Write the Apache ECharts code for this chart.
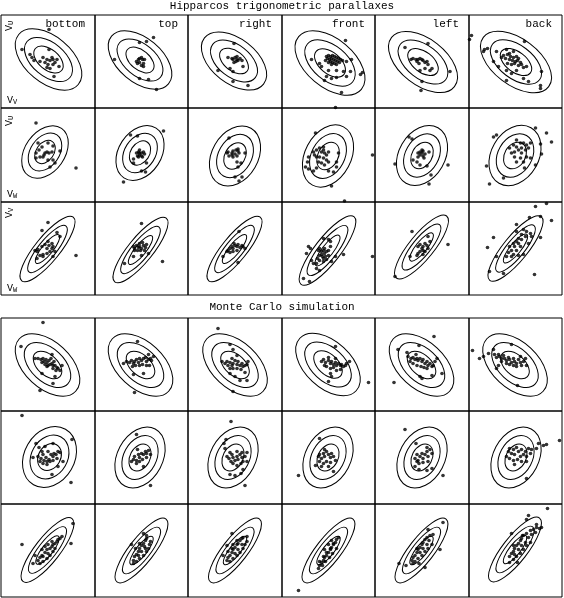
<!DOCTYPE html>
<html>
<head>
<meta charset="utf-8">
<script src="https://cdn.jsdelivr.net/npm/echarts@6/dist/echarts.min.js"></script>
<style>
  html, body { margin: 0; padding: 0; background: #fff; }
  #chart { width: 564px; height: 598px; }
</style>
</head>
<body>
<div id="chart"></div>
<script>
// panels: 2 blocks x 3 velocity planes x 6 faces
const faces = ["bottom", "top", "right", "front", "left", "back"];
const blockTitles = ["Hipparcos trigonometric parallaxes", "Monte Carlo simulation"];
// [y-axis component, x-axis component] for the three planes
const planeAxes = [["U", "V"], ["U", "W"], ["V", "W"]];
// contour radii in sigma for the three ellipses
const contourLevels = [1.52, 2.48, 3.44];

// 1-sigma ellipses per face: [cx, cy, sigma major, sigma minor, angle deg]
const hipEllUV = [[0.5, 2, 11.3, 6.7, -40], [-1.5, 1.5, 10.8, 6.4, -40], [-1, 0.5, 10.9, 6.5, -38], [1.5, -1.5, 11.9, 7.0, -40], [1, -0.5, 11.6, 6.7, -38], [0.5, -0.5, 11.9, 6.7, -37]];
const hipEllUW = [[-3, 3, 8.4, 5.8, 55], [-1.5, 2, 8.6, 6.2, 57], [0, -1, 9.3, 6.7, 60], [-0.5, -1, 9.6, 6.7, 62], [0, -0.5, 9.3, 6.7, 60], [-0.5, -0.5, 9.3, 6.9, 60]];
const hipEllVW = [[-0.5, -0.5, 11.9, 3.6, 51], [-1, -1.5, 11.9, 3.6, 51], [-0.5, -0.5, 11.9, 3.6, 51], [-1, -2, 12.5, 3.7, 52], [-0.5, 1.5, 11.6, 3.6, 51], [0, 0, 11.9, 3.6, 51]];
const mcEllUV = [[-0.5, -0.5, 11.2, 6.7, -43], [-1, -0.5, 11.2, 6.7, -43], [0, -0.5, 11.2, 6.7, -43], [-0.5, 0, 11.2, 6.7, -43], [-0.5, -0.5, 11.2, 6.7, -43], [-0.5, -0.5, 11.2, 6.7, -43]];
const mcEllUW = [[1.5, 0.5, 9.3, 7.3, 60], [-1.5, 0, 9.4, 6.6, 62], [-2, 0, 9.4, 6.6, 62], [-0.5, 0, 9.4, 6.6, 62], [0, 0, 9.4, 6.6, 62], [0.5, 0, 9.4, 6.6, 62]];
const mcEllVW = [[-0.5, 0.5, 11.6, 3.6, 52], [0, 0, 11.6, 3.6, 52], [0, 0, 11.6, 3.6, 52], [0, 0, 11.6, 3.6, 52], [-0.5, 0, 11.6, 3.6, 52], [-0.5, 1, 11.6, 3.6, 52]];

// stars per face, Hipparcos parallaxes
const hipUV = [
  [[1,32],[-26,12],[-18,7],[-16,4],[-14,1],[-5,4],[1,12],[-1,2],[2,1],[4,4],[5,2],[7,-1],[0,-3],[-1,-6],[2,-7],[5,-3],[9,2],[11,-5],[6,-15],[-3,-1],[-8,0]],
  [[12,24],[-2,19],[5,20],[-27,2],[-5,0],[-3,2],[-2,3],[0,4],[1,2],[-2,-1],[-4,-2],[2,-2],[0,-4],[3,2],[2,-5],[-2,-17],[7,-18],[15,-28]],
  [[-1,18],[-7,4],[-3,3],[-2,2],[0,4],[2,2],[3,1],[1,0],[5,3],[7,1],[2,5],[-1,-1],[-5,-7],[-2,-10],[-17,-9],[-2,-20],[13,-24],[8,-5]],
  [[17,21],[-17,2],[-9,-2],[0,-9],[8,-9],[15,-10],[22,-10],[-2,-15],[-4,-19],[3,-17],[8,-16],[18,-15],[32,-13],[34,-11],[13,-31],[7,-46],[-7,-5],[18,0],[23,2],[-2,5],[0,6],[2,5],[4,6],[6,5],[8,4],[10,3],[12,2],[-1,3],[1,2],[3,3],[5,2],[7,1],[9,0],[2,0],[4,-1],[6,-2],[0,-1],[3,-3],[8,-3],[11,-1],[-3,1],[14,1]],
  [[6,18],[-17,14],[-11,2],[-9,3],[-6,2],[-4,2],[-2,3],[0,2],[1,1],[3,-1],[5,0],[6,-3],[-3,-2],[-5,0],[-2,-9],[3,-7],[8,-9],[10,-7],[28,-10],[0,-20],[-1,-29]],
  [[-44,26],[-46,22],[9,20],[-31,12],[-28,13],[-32,10],[-19,10],[-9,12],[-2,10],[-22,0],[-17,-5],[-9,-9],[-4,-12],[1,-9],[11,-5],[-9,-19],[13,-20],[26,-10],[25,-27],[25,-24],[8,-17],[-12,6],[-8,7],[-5,5],[-2,4],[1,5],[3,3],[-10,3],[-6,2],[-3,1],[0,0],[2,1],[5,-1],[-8,-2],[-4,-3],[-1,-2],[3,-4],[6,-3],[8,-6],[-14,4],[-6,8]]
];
const hipUW = [
  [[-12,32],[28,-13],[-10,12],[-6,8],[0,12],[5,9],[12,4],[-12,2],[-12,-3],[-8,-2],[-4,0],[-1,3],[1,2],[4,3],[-3,2],[-5,-2],[0,-5],[5,-5],[7,-8],[2,-12],[-9,5]],
  [[-11,20],[-4,19],[22,24],[-5,2],[-3,3],[-2,5],[0,2],[2,3],[-2,0],[0,-1],[-4,-1],[3,1],[-2,2],[1,-2],[-3,-2],[-8,-4],[-8,-8],[0,-16],[4,-17],[-18,-27],[5,-8]],
  [[-6,17],[-8,2],[-7,3],[-3,2],[-2,4],[1,5],[3,4],[4,2],[0,1],[-3,0],[-6,-1],[2,-1],[-2,-2],[3,6],[10,2],[2,-7],[6,-8],[3,-12],[0,-22],[7,-22],[4,-26]],
  [[-13,22],[44,0],[16,-46],[3,-31],[-15,3],[-12,5],[-9,7],[-7,3],[-5,5],[-4,2],[-2,0],[0,3],[-9,-2],[-5,-3],[-2,-5],[-10,-7],[-7,-8],[-4,-10],[-12,-2],[0,-7],[-14,0],[-5,8],[10,2],[-21,-7],[-23,-12],[-20,-14],[-15,-16],[-12,-13],[0,-16],[5,-17],[8,-12],[8,-7],[-20,-2]],
  [[-13,18],[-10,16],[-4,2],[-2,3],[0,2],[1,4],[3,1],[-2,0],[1,-1],[-4,-2],[2,-3],[0,5],[7,3],[-9,-5],[-5,-7],[-2,-10],[5,-11],[9,-20],[26,-10],[7,-29],[-27,-9]],
  [[-22,18],[-19,20],[20,27],[31,22],[36,13],[25,11],[1,15],[-6,7],[-2,10],[1,8],[5,12],[8,12],[11,10],[15,12],[-4,2],[-1,3],[3,5],[6,2],[10,5],[13,7],[-1,-2],[5,-3],[8,-7],[11,-2],[1,-7],[6,7],[26,1],[20,-10],[9,-13],[-29,-11],[-12,-23],[-26,-29],[15,-3]]
];
const hipVW = [
  [[0,26],[-6,18],[28,-7],[9,16],[12,12],[-13,-2],[-11,-3],[-10,-1],[-6,2],[-3,4],[-1,0],[1,3],[4,0],[5,2],[2,-3],[-1,-5],[-5,-6],[-8,-7],[4,5],[7,-3],[0,7],[-11,-10],[5,-8],[-5,-8]],
  [[0,25],[21,-13],[-8,2],[-7,0],[-5,3],[-3,1],[-2,2],[0,0],[2,3],[4,1],[-4,-2],[-1,-2],[3,-2],[5,4],[-2,5],[-7,-2],[1,6],[-17,-15],[-8,-8],[0,-7],[7,-5]],
  [[4,17],[3,-14],[-8,-3],[-7,-2],[-5,0],[-3,2],[-2,0],[0,3],[2,2],[3,4],[5,1],[7,3],[8,2],[-5,-4],[-2,-3],[2,-2],[10,0],[-1,5],[-12,-8]],
  [[44,-8],[-20,2],[-18,0],[-22,-5],[0,9],[2,7],[15,-6],[7,-8],[-15,-15],[-17,-12],[-12,-20],[-9,-22],[-25,-30],[-19,-33],[3,-13],[-5,10],[-10,-2],[-9,0],[-7,-3],[-5,-2],[-4,0],[-2,-3],[0,-2],[-9,-7],[-6,-8],[-3,-8],[0,-7],[-9,-12],[-5,-13],[-2,-11],[-11,-10],[-7,-6],[-4,-5],[2,2],[-12,-15],[-5,-10]],
  [[-10,17],[26,4],[-27,-28],[6,12],[-4,2],[-2,4],[0,0],[1,2],[3,5],[5,3],[1,-2],[-2,-3],[-4,-5],[3,-3],[6,0],[-5,-7],[1,-6],[8,7],[-12,-8]],
  [[20,42],[31,45],[36,28],[25,32],[14,31],[-22,11],[-28,1],[1,24],[25,11],[19,-26],[-26,-23],[-12,-25],[-19,-8],[8,19],[11,17],[15,15],[6,14],[10,12],[3,10],[6,9],[1,7],[-2,5],[3,5],[-6,2],[-1,2],[5,2],[-4,-2],[1,-2],[-7,-4],[-2,-6],[3,-7],[8,-6],[-9,-8],[13,5],[16,12],[1,17],[-4,-8]]
];

// stars per face, Monte Carlo simulation
const mcUV = [
  [[-5,42],[-27,18],[-13,6],[-8,-26],[5,-19],[-6,-9],[7,-12],[14,-1],[-10,6],[-7,5],[-5,6],[-4,3],[-2,5],[-1,2],[1,4],[2,0],[4,1],[5,-1],[7,-1],[9,-3],[10,-4],[5,-4],[0,-1],[-3,0],[-6,2],[3,6],[6,3],[-1,-2],[12,-6],[8,-6],[4,10]],
  [[-4,23],[-7,-28],[-8,-10],[2,-9],[7,10],[-18,1],[-15,3],[-12,2],[-10,4],[-8,1],[-7,3],[-5,5],[-3,2],[-2,6],[0,4],[2,6],[4,7],[5,3],[7,5],[9,6],[10,4],[-2,-1],[1,0],[5,-1],[8,-1],[-6,-1],[-9,-2],[12,8]],
  [[-17,36],[-5,20],[-2,15],[2,9],[-13,3],[-2,-27],[0,-12],[5,-16],[12,-16],[10,-8],[-5,-9],[-10,1],[-8,3],[-7,-1],[-5,2],[-3,-1],[-2,1],[0,4],[2,0],[3,3],[5,-1],[7,1],[8,-2],[10,-1],[12,0],[-2,-4],[2,-4],[6,-5],[-5,-4],[13,3],[-3,6]],
  [[7,18],[40,-18],[21,3],[0,-17],[-7,3],[-5,5],[-3,2],[0,4],[2,1],[3,3],[5,0],[7,2],[8,-1],[10,1],[12,-1],[13,0],[15,-2],[17,-1],[-2,-2],[2,-4],[5,-3],[8,-6],[12,-5],[0,7],[7,6],[2,-9],[3,-12],[-4,-1],[18,1]],
  [[12,28],[-28,-18],[-24,15],[-3,19],[-15,12],[15,6],[20,-9],[10,-11],[-2,-12],[0,-14],[-14,8],[-11,6],[-9,7],[-7,5],[-5,6],[-4,4],[-2,6],[0,3],[1,5],[3,1],[5,3],[6,-1],[8,1],[10,-2],[11,-1],[-9,1],[-5,-1],[-1,-2],[2,-3],[5,-4],[-12,3],[13,3],[-6,10]],
  [[-43,14],[-36,6],[-32,8],[-27,11],[-22,15],[-19,-4],[-17,-1],[2,-21],[-4,20],[11,-1],[-21,10],[-19,7],[-17,10],[-16,8],[-14,6],[-12,9],[-11,6],[-9,4],[-7,7],[-6,5],[-4,2],[-2,6],[-1,3],[1,1],[3,5],[5,2],[6,-1],[8,3],[-6,0],[-2,-1],[1,-2],[-9,1],[-14,3],[5,8],[10,6]]
];
const mcUW = [
  [[-26,42],[24,18],[23,-25],[-12,14],[-9,10],[4,-17],[10,-9],[15,-4],[-15,0],[5,14],[-3,11],[-10,1],[-7,-1],[-5,3],[-4,-3],[-2,0],[-1,-4],[1,-2],[3,3],[5,1],[6,4],[8,3],[10,6],[12,5],[-5,-6],[-1,-7],[2,-4],[5,-3],[9,-1],[-6,6],[0,6],[-8,-4]],
  [[-5,23],[9,-28],[2,-9],[-8,-2],[-7,1],[-5,-3],[-3,3],[-2,0],[0,4],[2,3],[4,6],[5,4],[7,7],[-2,-4],[1,-2],[5,0],[-5,-6],[9,3],[-4,8],[-10,-4]],
  [[-4,36],[10,-28],[-9,18],[-11,14],[-10,9],[-5,5],[2,6],[7,5],[12,5],[12,-4],[-5,-17],[0,-18],[6,-16],[8,-12],[-8,1],[-6,-1],[-3,3],[-2,0],[0,-3],[2,1],[3,-2],[5,3],[7,0],[8,-4],[10,1],[-2,-6],[2,-8],[6,-6],[-4,-4]],
  [[-9,19],[-30,-18],[5,-14],[-13,-8],[-10,1],[-9,3],[-7,-1],[-5,4],[-4,1],[-2,6],[0,3],[2,0],[3,4],[5,1],[-9,-4],[-5,-6],[-2,-4],[2,-5],[-7,-9],[0,-9],[7,-3],[-4,8]],
  [[-17,28],[21,-18],[-6,14],[10,-11],[-7,-9],[-3,-12],[5,-13],[-7,-1],[-5,3],[-4,-3],[-2,1],[0,4],[1,-1],[3,3],[5,6],[6,1],[8,8],[10,4],[-3,-6],[1,-5],[6,-4],[-5,-4],[5,10]],
  [[44,17],[31,13],[28,12],[23,14],[21,9],[11,-21],[-1,-7],[-7,6],[-6,9],[-4,4],[-2,8],[-1,3],[1,10],[3,6],[5,1],[6,8],[8,3],[10,6],[11,1],[13,9],[15,4],[16,8],[-6,-1],[-2,-3],[2,-2],[6,-4],[11,-4],[-9,1]]
];
const mcVW = [
  [[-26,6],[25,27],[23,7],[-15,-13],[-13,-5],[-10,-10],[-8,-7],[-6,-5],[-5,-6],[-3,-2],[-1,1],[0,-3],[2,2],[4,4],[5,6],[7,7],[9,9],[10,11],[12,12],[-5,-11],[-1,-8],[2,-5],[5,-1],[-8,-13],[-3,4],[4,9],[7,2],[0,6],[-6,1],[14,14]],
  [[2,17],[5,15],[-10,6],[8,6],[-8,-10],[-7,-6],[-5,-4],[-3,-1],[-2,2],[0,5],[2,7],[4,10],[5,12],[-5,-11],[-2,-8],[2,-5],[5,-1],[7,2],[-3,-5],[0,-1],[4,2],[-6,2],[-2,7],[3,4],[9,9],[-8,-13]],
  [[-3,17],[12,14],[-8,5],[-12,-5],[-8,-10],[-7,-7],[-5,-5],[-3,-2],[-2,1],[0,3],[2,6],[3,7],[5,10],[7,12],[8,13],[-5,-11],[-2,-8],[2,-5],[5,-2],[8,2],[10,6],[-3,2],[0,-3],[3,1],[7,6],[2,10],[12,9],[-2,6],[-7,-1]],
  [[-30,-40],[-10,-18],[-9,-15],[-7,-12],[-5,-10],[-4,-7],[-2,-5],[0,-2],[2,1],[3,3],[5,6],[7,8],[8,11],[-9,-11],[-5,-6],[-2,-2],[2,2],[5,7],[-6,-15],[-3,-11],[1,-7],[4,-3],[8,2],[0,6],[3,10],[-4,1],[10,13]],
  [[21,28],[18,1],[-23,-13],[-16,-15],[3,-17],[6,21],[11,16],[-10,-10],[-9,-7],[-7,-5],[-5,-2],[-4,1],[-2,3],[0,6],[1,8],[3,11],[5,13],[8,15],[-7,-11],[-4,-8],[0,-5],[3,-1],[6,2],[10,6],[-5,2],[-2,-2],[1,2],[5,6],[7,10],[-9,-13],[-3,-13]],
  [[32,42],[13,35],[11,31],[21,26],[26,23],[-4,17],[7,15],[-6,-6],[-4,-3],[-2,-1],[-1,2],[1,5],[3,7],[5,10],[6,12],[8,15],[11,17],[15,20],[18,21],[21,23],[-2,-9],[1,-6],[5,-3],[8,1],[11,5],[15,8],[-1,-4],[3,1],[6,5],[10,8],[13,13],[16,16],[-6,-12],[20,18],[24,22],[-2,5],[2,-12]]
];

// page layout (pixels)
const colX = [1, 95, 188, 282, 375, 469, 562];
const rowY = [[15, 108, 202, 295], [318, 411, 504, 597]];
const titleY = [6, 307];
const FONT = '"Liberation Mono", "DejaVu Sans Mono", monospace';

const blocks = [
  { pts: [hipUV, hipUW, hipVW], ell: [hipEllUV, hipEllUW, hipEllVW] },
  { pts: [mcUV, mcUW, mcVW], ell: [mcEllUV, mcEllUW, mcEllVW] }
];

function ellipseItem(params, api) {
  const c = api.coord([api.value(0), api.value(1)]);
  const s = api.size([1, 1]);
  return {
    type: "ellipse",
    x: c[0],
    y: c[1],
    rotation: api.value(4) * Math.PI / 180,
    shape: { cx: 0, cy: 0, rx: api.value(2) * s[0], ry: api.value(3) * s[1] },
    style: { fill: "none", stroke: "#000", lineWidth: 1 }
  };
}

function velLabel(comp, x, y, rotated) {
  return {
    type: "text",
    x: x,
    y: y,
    rotation: rotated ? Math.PI / 2 : 0,
    style: {
      text: "{m|V}{s|" + comp + "}",
      rich: {
        m: { font: "10px " + FONT, fill: "#000" },
        s: { font: "7px " + FONT, fill: "#000", verticalAlign: "bottom", padding: [4, 0, 0, 0] }
      },
      align: "center",
      verticalAlign: "middle",
      textAlign: "center",
      textVerticalAlign: "middle"
    }
  };
}

const grid = [], xAxis = [], yAxis = [], series = [], graphic = [];

blocks.forEach((blk, b) => {
  for (let r = 0; r < 3; r++) {
    for (let c = 0; c < 6; c++) {
      const i = grid.length;
      const left = colX[c], w = colX[c + 1] - colX[c];
      const top = rowY[b][r], h = rowY[b][r + 1] - rowY[b][r];
      grid.push({ left: left, top: top, width: w, height: h, show: true,
        borderColor: "#000", borderWidth: 1, backgroundColor: "transparent" });
      xAxis.push({ type: "value", gridIndex: i, min: -w / 2, max: w / 2, show: false });
      yAxis.push({ type: "value", gridIndex: i, min: -h / 2, max: h / 2, show: false });
      const e = blk.ell[r][c];
      series.push({
        type: "custom", xAxisIndex: i, yAxisIndex: i, silent: true, clip: false,
        data: contourLevels.map(k => [e[0], e[1], e[2] * k, e[3] * k, e[4]]),
        renderItem: ellipseItem
      });
      series.push({
        type: "scatter", xAxisIndex: i, yAxisIndex: i, silent: true, clip: false,
        data: blk.pts[r][c], symbol: "circle", symbolSize: 3.6,
        itemStyle: { color: "#000" }
      });
    }
  }
  graphic.push({
    type: "text", x: 282, y: titleY[b],
    style: { text: blockTitles[b], font: "11px " + FONT, fill: "#000",
      align: "center", verticalAlign: "middle", textAlign: "center", textVerticalAlign: "middle" }
  });
});

// face names on the first row of the upper block
faces.forEach((f, c) => {
  graphic.push({
    type: "text", x: colX[c + 1] - 10, y: 24,
    style: { text: f, font: "11px " + FONT, fill: "#000",
      align: "right", verticalAlign: "middle", textAlign: "right", textVerticalAlign: "middle" }
  });
});

// velocity component labels in the first column of the upper block
const yLabelPos = [[9, 26], [9, 121], [9, 213]];
const xLabelPos = [[12, 100], [12, 194], [12, 288]];
planeAxes.forEach((p, r) => {
  graphic.push(velLabel(p[0], yLabelPos[r][0], yLabelPos[r][1], true));
  graphic.push(velLabel(p[1], xLabelPos[r][0], xLabelPos[r][1], false));
});

const chart = echarts.init(document.getElementById("chart"), null, { renderer: "canvas" });
chart.setOption({
  animation: false,
  backgroundColor: "#fff",
  grid: grid,
  xAxis: xAxis,
  yAxis: yAxis,
  series: series,
  graphic: { elements: graphic }
});
</script>
</body>
</html>
